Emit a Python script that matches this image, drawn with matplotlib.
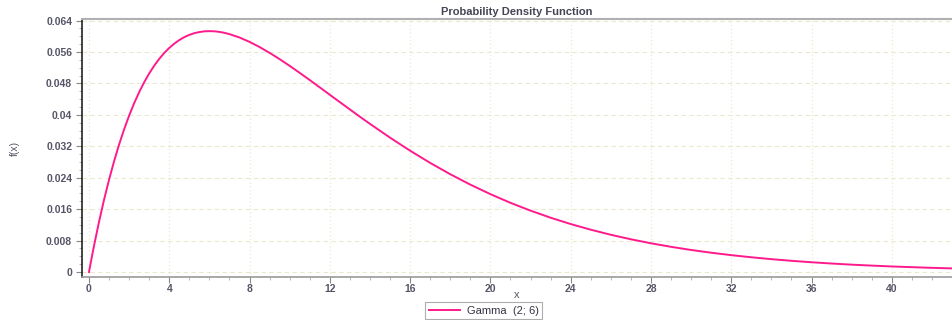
import numpy as np
import matplotlib
matplotlib.use("Agg")
import matplotlib.pyplot as plt
from matplotlib.ticker import MultipleLocator

# --- Données (densité Gamma(2; 6)) ---
x_vals = [0, 0.1, 0.25, 0.5, 0.75, 1, 1.25, 1.5, 1.75, 2, 2.25, 2.5, 2.75,
          3, 3.25, 3.5, 3.75, 4, 4.25, 4.5, 4.75, 5, 5.25, 5.5, 5.75, 6,
          6.25, 6.5, 6.75, 7, 7.5, 8, 8.5, 9, 9.5, 10, 10.5, 11, 11.5, 12,
          12.5, 13, 13.5, 14, 15, 16, 17, 18, 19, 20, 21, 22, 23, 24, 25, 26,
          27, 28, 29, 30, 31, 32, 33, 34, 35, 36, 37, 38, 39, 40, 41, 42, 43]
f_vals = [0.0, 0.00273, 0.00666, 0.01278, 0.01839, 0.02351, 0.02819, 0.03245,
          0.03631, 0.03981, 0.04296, 0.04578, 0.04830, 0.05054, 0.05252,
          0.05425, 0.05576, 0.05704, 0.05814, 0.05905, 0.05979, 0.06036,
          0.06080, 0.06108, 0.06126, 0.06131, 0.06127, 0.06112, 0.06088,
          0.06055, 0.05969, 0.05858, 0.05726, 0.05578, 0.05418, 0.05247,
          0.05069, 0.04886, 0.04699, 0.04511, 0.04324, 0.04138, 0.03952,
          0.03771, 0.03420, 0.03088, 0.02777, 0.02489, 0.02224, 0.01982,
          0.01761, 0.01562, 0.01382, 0.01221, 0.01077, 0.00948, 0.00833,
          0.00731, 0.00641, 0.00561, 0.00491, 0.00429, 0.00375, 0.00327,
          0.00285, 0.00248, 0.00216, 0.00187, 0.00163, 0.00141, 0.00123,
          0.00106, 0.00092]
x_ticks = [0, 4, 8, 12, 16, 20, 24, 28, 32, 36, 40]
y_ticks = [0, 0.008, 0.016, 0.024, 0.032, 0.04, 0.048, 0.056, 0.064]
y_labels = ["0", "0.008", "0.016", "0.024", "0.032", "0.04", "0.048", "0.056", "0.064"]

plt.rcParams["font.family"] = ["Liberation Sans", "DejaVu Sans"]
texte = "#555566"

fig = plt.figure(figsize=(9.52, 3.2), dpi=100)
ax = fig.add_axes([0.0861, 0.1344, 0.9139, 0.8062])

ax.plot(x_vals, f_vals, color="#ff1a8c", linewidth=1.4, label="Gamma  (2; 6)")

ax.set_xlim(-0.35, 43)
ax.set_ylim(-0.00127, 0.0644)
ax.set_xticks(x_ticks)
ax.set_xticklabels([str(t) for t in x_ticks])
ax.set_yticks(y_ticks)
ax.set_yticklabels(y_labels)
ax.xaxis.set_minor_locator(MultipleLocator(1))
ax.yaxis.set_minor_locator(MultipleLocator(0.002))

ax.tick_params(axis="both", which="major", length=4, width=0.8, color="#888888",
               labelsize=7.5, labelcolor=texte)
ax.tick_params(axis="x", which="major", pad=1)
ax.tick_params(axis="y", which="major", pad=3)
ax.tick_params(axis="both", which="minor", length=2, width=0.6, color="#aaaaaa")
for lab in ax.get_xticklabels() + ax.get_yticklabels():
    lab.set_fontweight("bold")

# grilles pointillées jaunâtres
ax.grid(axis="y", which="major", color="#ece8cc", linestyle=(0, (4, 3)), linewidth=0.8)
ax.grid(axis="x", which="major", color="#ece8cc", linestyle=(0, (1, 2)), linewidth=0.9)

ax.spines["left"].set_color("#222222")
ax.spines["left"].set_linewidth(1.2)
ax.spines["bottom"].set_color("#999999")
ax.spines["bottom"].set_linewidth(1.2)
ax.spines["top"].set_color("#b0b0b0")
ax.spines["top"].set_linewidth(1.5)
ax.spines["right"].set_visible(False)

ax.set_title("Probability Density Function", fontsize=8, color="#444455",
             fontweight="bold", pad=3)
ax.set_xlabel("x", fontsize=8, color=texte)
ax.xaxis.set_label_coords(0.5, -0.05, transform=ax.transAxes)
ax.set_ylabel("f(x)", fontsize=7.5, color=texte, labelpad=19)

leg = fig.legend(loc="lower center", bbox_to_anchor=(0.508, 0.003), fontsize=8,
                 frameon=True, fancybox=False, handlelength=2.8, borderpad=0.3,
                 handletextpad=0.6, borderaxespad=0)
leg.get_frame().set_edgecolor("#999999")
leg.get_frame().set_linewidth(0.8)
for t in leg.get_texts():
    t.set_color("#333344")

fig.savefig("out.png", dpi=100)
